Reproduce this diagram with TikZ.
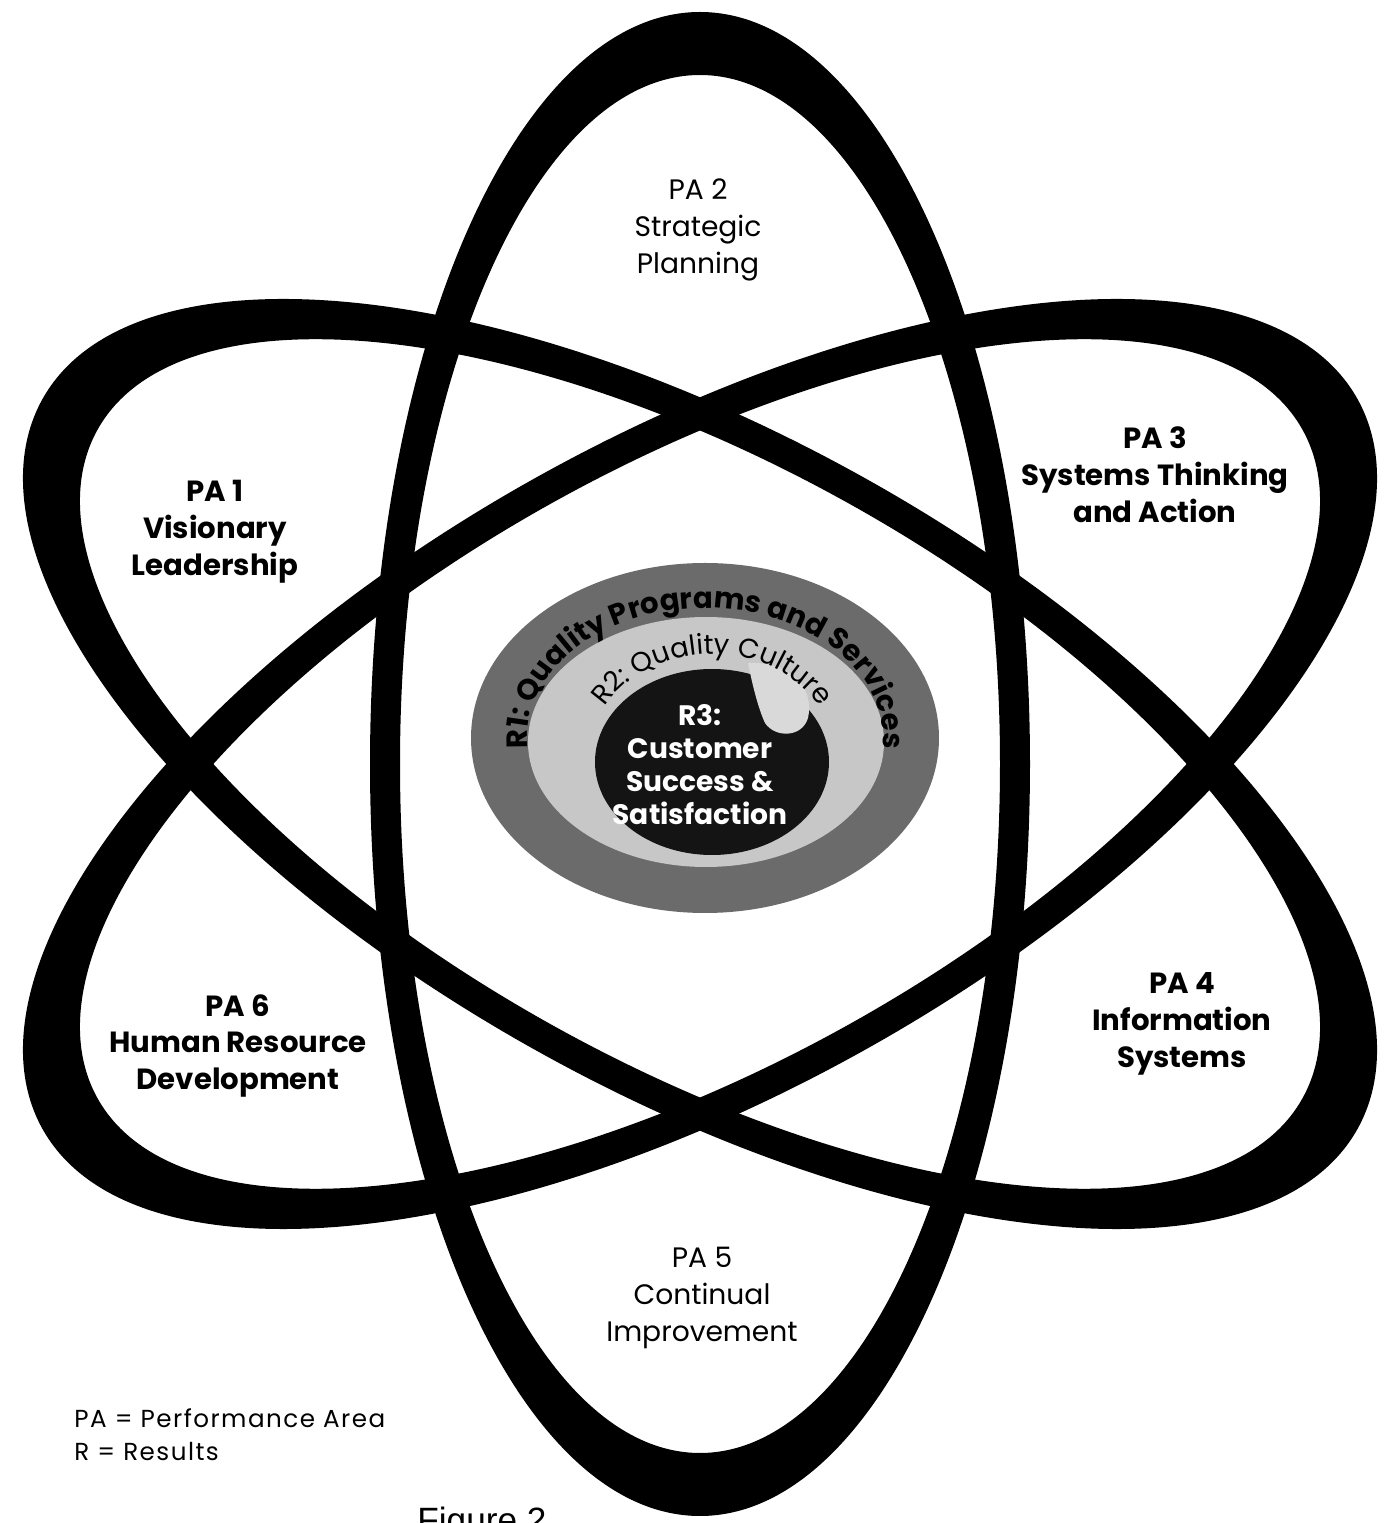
\documentclass[tikz,border=0pt]{standalone}
\usepackage{fontspec}
\setmainfont{Poppins}
\newfontfamily\figfont{Liberation Sans}
\usetikzlibrary{decorations.text}
\begin{document}
\begin{tikzpicture}[x=0.01cm,y=0.01cm]
\tikzset{
  ring/.style={fill=black, even odd rule},
  palabel/.style={align=center, font=\bfseries\fontsize{8.3}{10.5}\selectfont},
  paregular/.style={align=center, font=\fontsize{8}{10.5}\selectfont},
  rlabel/.style={align=center, text=white, font=\bfseries\fontsize{8}{9.4}\selectfont},
}
\useasboundingbox (0,0) rectangle (1399,1523);
\clip (0,0) rectangle (1399,1523);
\coordinate (c) at (700,759);
% three orbit rings
\fill[ring] (c) ellipse (330 and 752) (c) ellipse (300 and 689);
\fill[ring, rotate around={-29:(c)}] (c) ellipse (752 and 330) (c) ellipse (689 and 300);
\fill[ring, rotate around={29:(c)}] (c) ellipse (752 and 330) (c) ellipse (689 and 300);
% nucleus
\coordinate (d1) at (705,785);
\coordinate (d2) at (706,781);
\coordinate (d3) at (712,761);
\fill[black!58] (d1) ellipse (234 and 175);
\fill[black!22] (d2) ellipse (178 and 125);
\fill[black!92] (d3) ellipse (117 and 93);
\fill[black!15] (748,860) .. controls (790,862) and (815,835) .. (808,805)
   .. controls (802,785) and (775,785) .. (765,800)
   .. controls (758,815) and (752,840) .. (748,860);
% curved texts
\path[decorate, decoration={text along path, text align=center,
   text={|\bfseries\fontsize{8.3}{9}\selectfont|R1: Quality Programs and Services}}]
   (d1) ++(200:178 and 130) arc[start angle=200, end angle=-20, x radius=178, y radius=130];
\path[decorate, decoration={text along path, text align=center,
   text={|\fontsize{7.8}{9}\selectfont|R2: Quality Culture}}]
   (d3) ++(200:125 and 108) arc[start angle=200, end angle=-20, x radius=125, y radius=108];
\node[rlabel] (r3) at (700,758) {R3:\\Customer\\Success \&\\Satisfaction};
% performance areas
\node[palabel] (pa1) at (215,991) {PA 1\\Visionary\\Leadership};
\node[paregular] (pa2) at (698,1293) {PA 2\\Strategic\\Planning};
\node[palabel] (pa3) at (1155,1048) {PA 3\\Systems Thinking\\and Action};
\node[palabel] (pa4) at (1182,499) {PA 4\\Information\\Systems};
\node[paregular] (pa5) at (702,225) {PA 5\\Continual\\Improvement};
\node[palabel] (pa6) at (238,477) {PA 6\\Human Resource\\Development};
% legend
\node[anchor=west, align=left, font=\fontsize{7}{9.4}\selectfont\addfontfeature{LetterSpace=6}] (legend) at (62,88) {PA = Performance Area\\R = Results};
\node[anchor=base west, font=\figfont\fontsize{10}{12}\selectfont] (fig) at (405,-9) {Figure 2};
\end{tikzpicture}
\end{document}
